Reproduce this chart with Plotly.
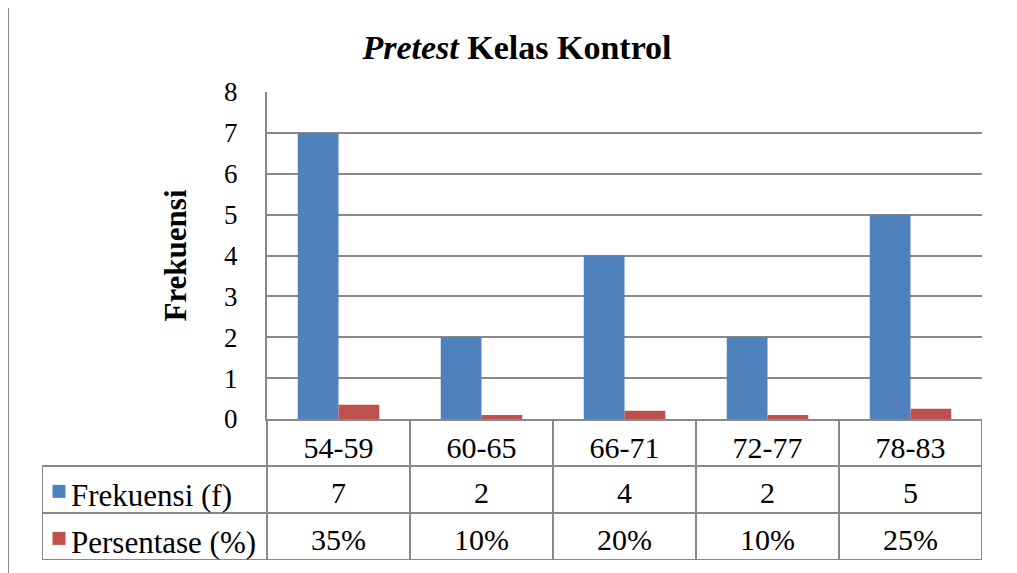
import plotly.graph_objects as go

# ---- data ----
categories = ["54-59", "60-65", "66-71", "72-77", "78-83"]
frekuensi = [7, 2, 4, 2, 5]
persentase = [35, 10, 20, 10, 25]  # percent
series_names = ["Frekuensi (f)", "Persentase (%)"]
y_ticks = [0, 1, 2, 3, 4, 5, 6, 7, 8]

BLUE = "#4F81BD"
RED = "#C0504D"
GRID = "#898989"
FONT = "Liberation Serif"

W, H = 1017, 573
PAGE_OFF = 8  # page body margin offset
n = len(categories)

# pixel layout (screen coordinates)
PLOT_L, PLOT_R = 267, 982
PLOT_T, PLOT_B = 92, 419
TAB_L, TAB_B = 42, 560
cat_w = (PLOT_R - PLOT_L) / n
label_w = (PLOT_L - TAB_L) / cat_w  # label column width in category units
TEXT_DY = 0.62  # text baseline placement inside a table row


def px_x(p):
    return (p - PAGE_OFF) / W


def px_y(p):
    return 1 - (p - PAGE_OFF) / H


fig = go.Figure()

fig.add_trace(go.Bar(x=categories, y=frekuensi, name=series_names[0],
                     marker=dict(color=BLUE, line=dict(width=0)),
                     xaxis="x", yaxis="y"))
fig.add_trace(go.Bar(x=categories, y=[p / 100 for p in persentase], name=series_names[1],
                     marker=dict(color=RED, line=dict(width=0)),
                     xaxis="x", yaxis="y"))

# ---- data table drawn on its own axes ----
TXT = dict(family=FONT, size=30, color="black")
x2_min = -0.5 - label_w
idx = list(range(n))
fig.add_trace(go.Scatter(x=idx, y=[0 + TEXT_DY + 0.05] * n, mode="text", text=categories,
                         textfont=TXT, xaxis="x2", yaxis="y2", hoverinfo="skip"))
fig.add_trace(go.Scatter(x=idx, y=[1 + TEXT_DY] * n, mode="text", text=[str(v) for v in frekuensi],
                         textfont=TXT, xaxis="x2", yaxis="y2", hoverinfo="skip"))
fig.add_trace(go.Scatter(x=idx, y=[2 + TEXT_DY] * n, mode="text", text=[f"{v}%" for v in persentase],
                         textfont=TXT, xaxis="x2", yaxis="y2", hoverinfo="skip"))

# legend keys in the table
key_x = x2_min + (59 - TAB_L) / cat_w
fig.add_trace(go.Scatter(x=[key_x, key_x], y=[1 + TEXT_DY - 0.08, 2 + TEXT_DY - 0.08], mode="markers",
                         marker=dict(symbol="square", size=13, color=[BLUE, RED]),
                         xaxis="x2", yaxis="y2", hoverinfo="skip"))

annotations = []
label_x = x2_min + (69 - TAB_L) / cat_w
for i, name in enumerate(series_names):
    annotations.append(dict(x=label_x, y=1 + i + TEXT_DY, xref="x2", yref="y2", text=name,
                            showarrow=False, xanchor="left", yanchor="middle",
                            font=dict(family=FONT, size=31, color="black")))

shapes = []
line_style = dict(color=GRID, width=2)
# vertical borders
for k in range(n + 1):
    xv = -0.5 + k
    shapes.append(dict(type="line", xref="x2", yref="y2", x0=xv, x1=xv, y0=0, y1=3,
                       line=line_style))
shapes.append(dict(type="line", xref="x2", yref="y2", x0=x2_min, x1=x2_min, y0=1, y1=3,
                   line=line_style))
# horizontal borders
for r in [1, 2, 3]:
    shapes.append(dict(type="line", xref="x2", yref="y2", x0=x2_min, x1=n - 0.5, y0=r, y1=r,
                       line=line_style))

# outer chart border
shapes.append(dict(type="rect", xref="paper", yref="paper",
                   x0=px_x(8), x1=1.02, y0=-0.02, y1=px_y(7),
                   line=dict(color="#8a8a8a", width=2), fillcolor="rgba(0,0,0,0)"))

fig.update_layout(
    width=W, height=H,
    margin=dict(l=0, r=0, t=0, b=0, autoexpand=False),
    paper_bgcolor="white", plot_bgcolor="white",
    showlegend=False,
    barmode="group", bargap=0.43, bargroupgap=0,
    title=dict(text="<b><i>Pretest</i> Kelas Kontrol</b>",
               x=px_x(517), xanchor="center", y=px_y(47), yanchor="middle",
               automargin=False,
               font=dict(family=FONT, size=34, color="black")),
    xaxis=dict(domain=[px_x(PLOT_L), px_x(PLOT_R)], showticklabels=False, ticks="",
               showgrid=False, zeroline=False, showline=True, linecolor=GRID, linewidth=2,
               automargin=False, fixedrange=True),
    yaxis=dict(domain=[px_y(PLOT_B), px_y(PLOT_T)], range=[0, 8], tickvals=y_ticks,
               showgrid=True, gridcolor=GRID, gridwidth=1.5, zeroline=False,
               showline=True, linecolor=GRID, linewidth=2, ticks="",
               ticklabelstandoff=22, automargin=False,
               tickfont=dict(family=FONT, size=27, color="black"),
               title=dict(text="<b>Frekuensi</b>", standoff=28,
                          font=dict(family=FONT, size=31, color="black")),
               fixedrange=True),
    xaxis2=dict(domain=[px_x(TAB_L), px_x(PLOT_R)], range=[x2_min, n - 0.5],
                visible=False, automargin=False, fixedrange=True),
    yaxis2=dict(domain=[px_y(TAB_B), px_y(PLOT_B)], range=[3, 0],
                visible=False, automargin=False, fixedrange=True),
    shapes=shapes,
    annotations=annotations,
)

fig.write_html("out.html")
